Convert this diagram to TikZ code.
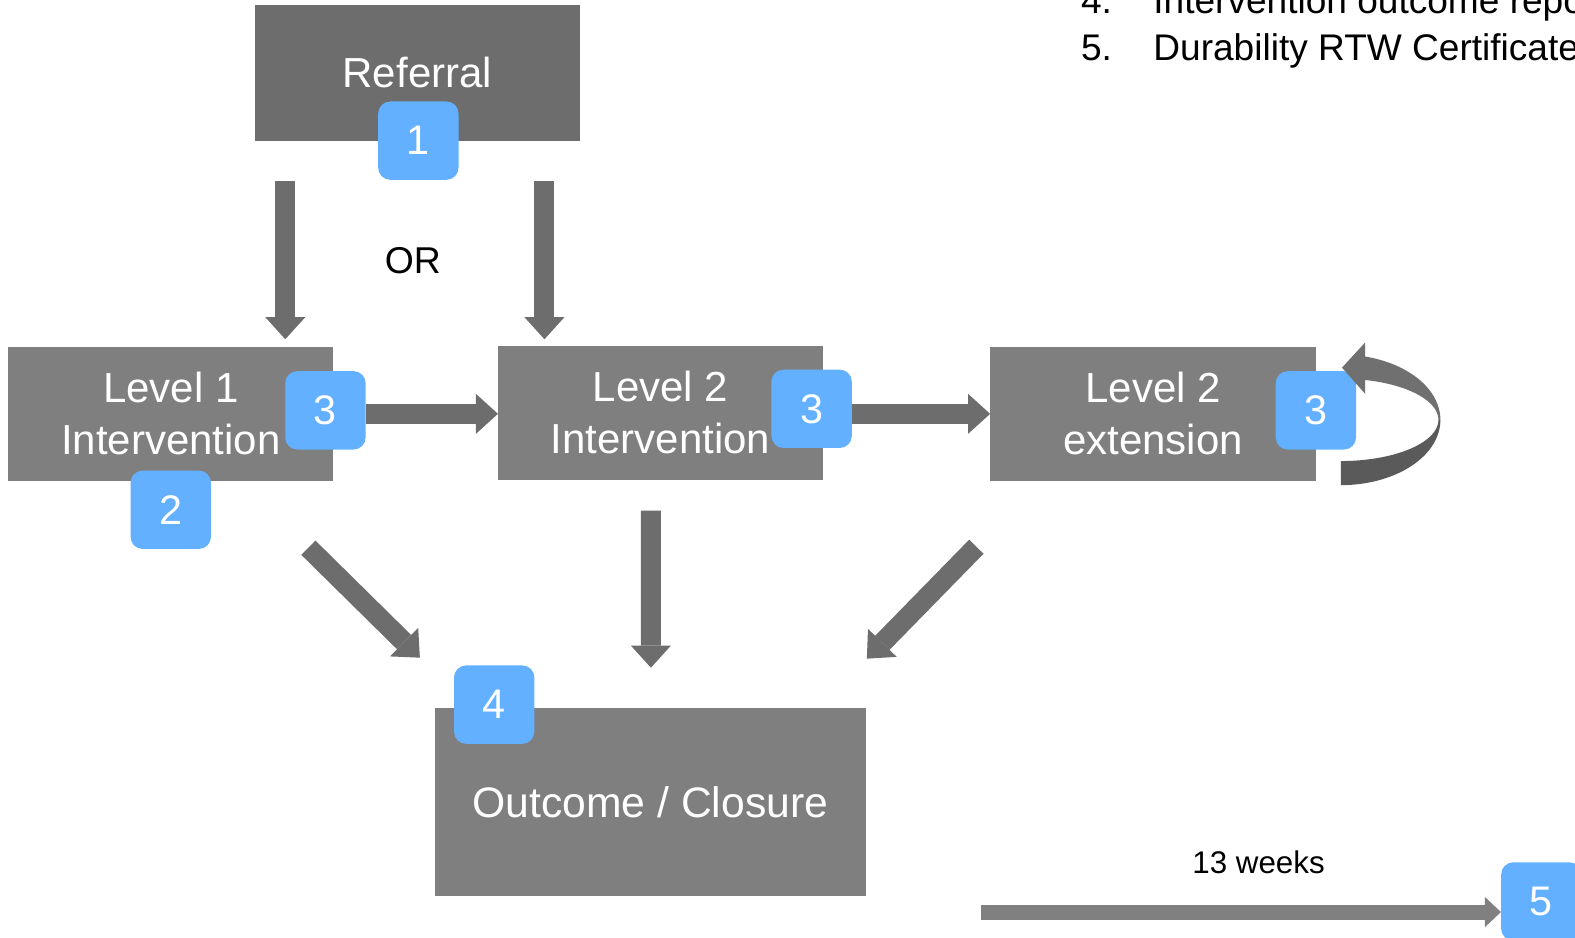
\documentclass[tikz,border=0pt]{standalone}
\usepackage{fontspec}
\setmainfont{Liberation Sans}
\usetikzlibrary{arrows.meta,calc}

\definecolor{stagegray}{HTML}{7F7F7F}
\definecolor{refgray}{HTML}{6D6D6D}
\definecolor{arrowgray}{HTML}{6D6D6D}
\definecolor{timegray}{HTML}{808080}
\definecolor{badgeblue}{HTML}{62B0FF}
\definecolor{loopdark}{HTML}{5A5A5A}
\definecolor{looplight}{HTML}{707070}

% one drawing unit
\newlength{\px}
\setlength{\px}{0.7534pt}

\tikzset{
  stagebox/.style={fill=stagegray, text=white, align=center, inner sep=0pt,
    font=\fontsize{31.5}{39}\selectfont},
  badge/.style={fill=badgeblue, text=white, inner sep=0pt,
    minimum width=80*\px, minimum height=78*\px, rounded corners=12*\px,
    font=\fontsize{31}{37}\selectfont},
  bigarrow/.style={draw=arrowgray, line width=15.07pt,
    -{Triangle[width=30.1pt,length=16.6pt,line width=0pt]}},
  timearrow/.style={draw=timegray, line width=11.3pt,
    -{Triangle[width=22.6pt,length=12pt,line width=0pt]}},
  plain/.style={text=black, inner sep=0pt},
  listtext/.style={plain, anchor=base west, font=\fontsize{27.8}{34}\selectfont},
}

\begin{document}
\begin{tikzpicture}[x=0.7534pt, y=-0.7534pt]
  \useasboundingbox (0,0) rectangle (1568,933);

  % stages
  \node[stagebox, fill=refgray, minimum width=323*\px, minimum height=135*\px]
    (referral) at (415.5,72.5) {Referral};
  \node[stagebox, minimum width=324*\px, minimum height=134*\px]
    (lvl1) at (170,412) {Level 1\\Intervention};
  \node[stagebox, minimum width=323*\px, minimum height=134*\px]
    (lvl2) at (657.5,411) {Level 2\\Intervention};
  \node[stagebox, minimum width=324*\px, minimum height=134*\px]
    (ext) at (1148,412) {Level 2\\extension};
  \node[stagebox, minimum width=429*\px, minimum height=187*\px,
    font=\fontsize{32}{39}\selectfont]
    (outcome) at (647.5,798.5) {Outcome / Closure};

  % numbered markers
  \node[badge] (b1)  at (416.5,140)   {1};
  \node[badge] (b2)  at (170,507.5)   {2};
  \node[badge] (b3a) at (324,408.5)   {3};
  \node[badge] (b3b) at (808,407)     {3};
  \node[badge] (b3c) at (1310,408.5)  {3};
  \node[badge] (b4)  at (492,701.5)   {4};
  \node[badge] (b5)  at (1534.5,897.5){5};

  % flow arrows
  \draw[bigarrow] ($(referral.south)+(-131.5,40)$) -- ($(lvl1.north)+(114,-7)$);
  \draw[bigarrow] ($(referral.south)+(126.5,40)$) -- ($(lvl2.north)+(-115.5,-6)$);
  \node[plain, font=\fontsize{28}{34}\selectfont] (orlabel) at (411,259) {OR};

  \draw[bigarrow] (b3a.east |- lvl1.center) -- (lvl2.west |- lvl1.center);
  \draw[bigarrow] (b3b.east |- ext.center) -- (ext.west);

  \draw[bigarrow] ($(lvl1.south)+(137,66)$) -- ($(outcome.north)+(-229.5,-50)$);
  \draw[bigarrow] ($(lvl2.south)+(-9.5,30)$) -- ($(outcome.north)+(0.5,-40)$);
  \draw[bigarrow] ($(ext.south)+(-176,65)$) -- ($(outcome.north)+(215.5,-49)$);

  % repeat loop on the extension stage
  \fill[looplight]
    plot[domain=76:0, samples=40] ({1335+99*cos(\x)},{418-65*sin(\x)})
    -- plot[domain=0:75.7, samples=40] ({1335+97*cos(\x)},{418-41*sin(\x)})
    -- (1359,392) -- (1336,366) -- (1359,341) -- cycle;
  \fill[loopdark]
    plot[domain=0:-90, samples=40] ({1335+99*cos(\x)},{418-65*sin(\x)})
    -- plot[domain=-90:0, samples=40] ({1335+97*cos(\x)},{418-41*sin(\x)})
    -- cycle;

  % time line to the durability check
  \coordinate (tstart) at ($(b5.west)+(-518,10.5)$);
  \draw[timearrow] (tstart) -- ($(b5.west)+(0,10.5)$);
  \node[plain, font=\fontsize{23.5}{28}\selectfont] (weeks) at (1253,858) {13 weeks};

  % list of documents
  \node[listtext] (n4) at (1076,13) {4.};
  \node[listtext] (t4) at (1148,13) {Intervention outcome report};
  \node[listtext] (n5) at (1076,60) {5.};
  \node[listtext] (t5) at (1148,60) {Durability RTW Certificate};
\end{tikzpicture}
\end{document}
